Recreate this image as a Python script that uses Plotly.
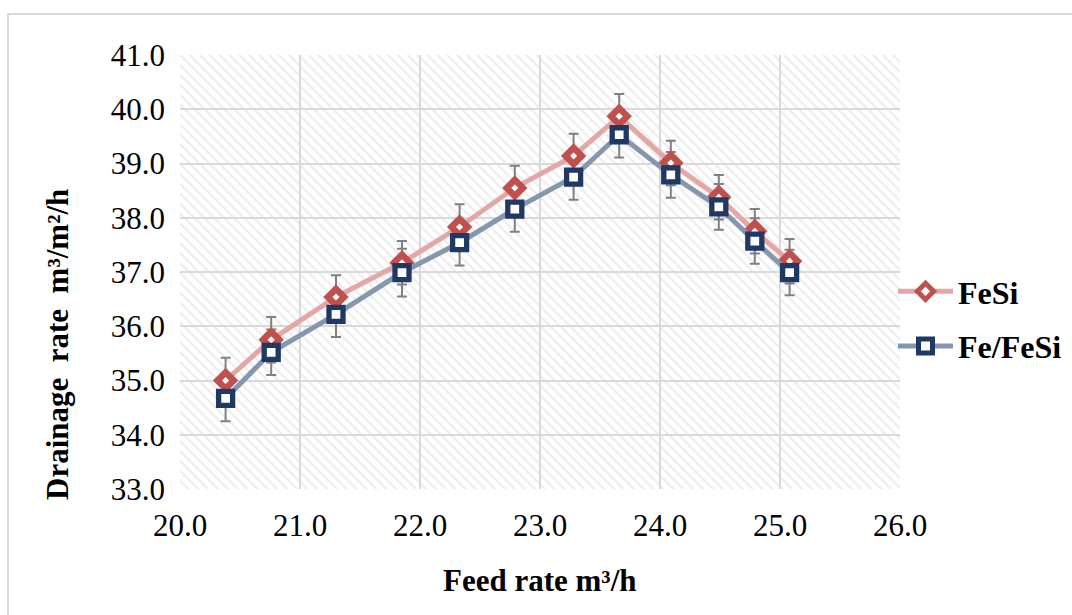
import plotly.graph_objects as go

# ---- data ----
feed_rate = [20.38, 20.76, 21.30, 21.85, 22.33, 22.79, 23.28, 23.66, 24.09, 24.49, 24.79, 25.08]
fesi      = [35.00, 35.75, 36.54, 37.17, 37.83, 38.55, 39.14, 39.87, 39.01, 38.38, 37.75, 37.20]
fe_fesi   = [34.67, 35.52, 36.22, 36.99, 37.54, 38.16, 38.75, 39.53, 38.79, 38.20, 37.57, 36.99]
fesi_err    = [0.42, 0.42, 0.40, 0.40, 0.42, 0.41, 0.41, 0.41, 0.41, 0.41, 0.41, 0.41]
fe_fesi_err = [0.42, 0.42, 0.42, 0.44, 0.42, 0.42, 0.42, 0.42, 0.42, 0.42, 0.42, 0.42]

x_range = [20.0, 26.0]
y_range = [33.0, 41.0]
x_ticks = [20.0, 21.0, 22.0, 23.0, 24.0, 25.0, 26.0]
y_ticks = [33.0, 34.0, 35.0, 36.0, 37.0, 38.0, 39.0, 40.0, 41.0]

x_title = "Feed rate m³/h"
y_title = "Drainage  rate  m³/m²/h"

FONT = "Liberation Serif"
RED = "#C0504D"
RED_LINE = "#E3A7A5"
NAVY = "#1F3864"
BLUE_LINE = "#8597AF"
ERR = "#808080"

fig = go.Figure()

# hatched plot-area background
fig.add_trace(go.Scatter(
    x=[x_range[0], x_range[1], x_range[1], x_range[0], x_range[0]],
    y=[y_range[0], y_range[0], y_range[1], y_range[1], y_range[0]],
    mode="none", fill="toself", fillcolor="rgba(0,0,0,0)",
    fillpattern=dict(shape="\\", fgcolor="#d9d9d9", bgcolor="rgba(0,0,0,0)",
                     size=7, solidity=0.3),
    hoverinfo="skip", showlegend=False))

# error bars (drawn below markers)
for ys, errs in ((fesi, fesi_err), (fe_fesi, fe_fesi_err)):
    fig.add_trace(go.Scatter(
        x=feed_rate, y=ys, mode="markers",
        marker=dict(size=1, color="rgba(0,0,0,0)"),
        error_y=dict(type="data", array=errs, visible=True,
                     color=ERR, thickness=2, width=5),
        hoverinfo="skip", showlegend=False))

fig.add_trace(go.Scatter(
    x=feed_rate, y=fesi, name="FeSi", mode="lines+markers",
    line=dict(color=RED_LINE, width=5),
    marker=dict(symbol="diamond", size=12.5, color="white",
                line=dict(color=RED, width=6.5)),
    legendgroup="a"))

fig.add_trace(go.Scatter(
    x=feed_rate, y=fe_fesi, name="Fe/FeSi", mode="lines+markers",
    line=dict(color=BLUE_LINE, width=5),
    marker=dict(symbol="square", size=14, color="white",
                line=dict(color=NAVY, width=5.3)),
    legendgroup="b"))

L, R, T, B = 180, 172, 55, 126
W, H = 1072, 615
pw, ph = W - L - R, H - T - B

fig.update_layout(
    width=W, height=H,
    margin=dict(l=L, r=R, t=T, b=B, autoexpand=False),
    paper_bgcolor="white", plot_bgcolor="white",
    font=dict(family=FONT, size=31, color="black"),
    xaxis=dict(range=x_range, tickvals=x_ticks, tickformat=".1f",
               showgrid=True, gridcolor="#d9d9d9", gridwidth=2,
               zeroline=False, showline=False, ticks="",
               ticklabelstandoff=15, tickfont=dict(size=31)),
    yaxis=dict(range=y_range, tickvals=y_ticks, tickformat=".1f",
               showgrid=True, gridcolor="#d9d9d9", gridwidth=2,
               zeroline=False, showline=False, ticks="",
               ticklabelstandoff=14, tickfont=dict(size=31)),
    legend=dict(x=(893 - L) / pw, y=(H - B - 319) / ph, xanchor="left", yanchor="middle",
                font=dict(family=FONT, size=32, color="black", weight="bold"),
                bgcolor="rgba(0,0,0,0)", tracegroupgap=10, itemwidth=55),
    showlegend=True,
)

# axis titles
fig.add_annotation(text="<b>" + x_title + "</b>", xref="paper", yref="paper",
                   x=(540 - L) / pw, y=(H - B - 580) / ph, xanchor="center", yanchor="middle",
                   showarrow=False, font=dict(family=FONT, size=31, color="black"))
fig.add_annotation(text="<b>" + y_title + "</b>", xref="paper", yref="paper",
                   x=(57 - L) / pw, y=(H - B - 345) / ph, xanchor="center", yanchor="middle",
                   textangle=-90, showarrow=False, font=dict(family=FONT, size=31, color="black"))

# outer chart border
fig.add_shape(type="rect", xref="paper", yref="paper",
              x0=(8 - L) / pw, x1=(1080 - L) / pw,
              y0=(H - B - 625) / ph, y1=(H - B - 14) / ph,
              line=dict(color="#d9d9d9", width=2), fillcolor="rgba(0,0,0,0)", layer="below")

fig.write_html("out.html")
